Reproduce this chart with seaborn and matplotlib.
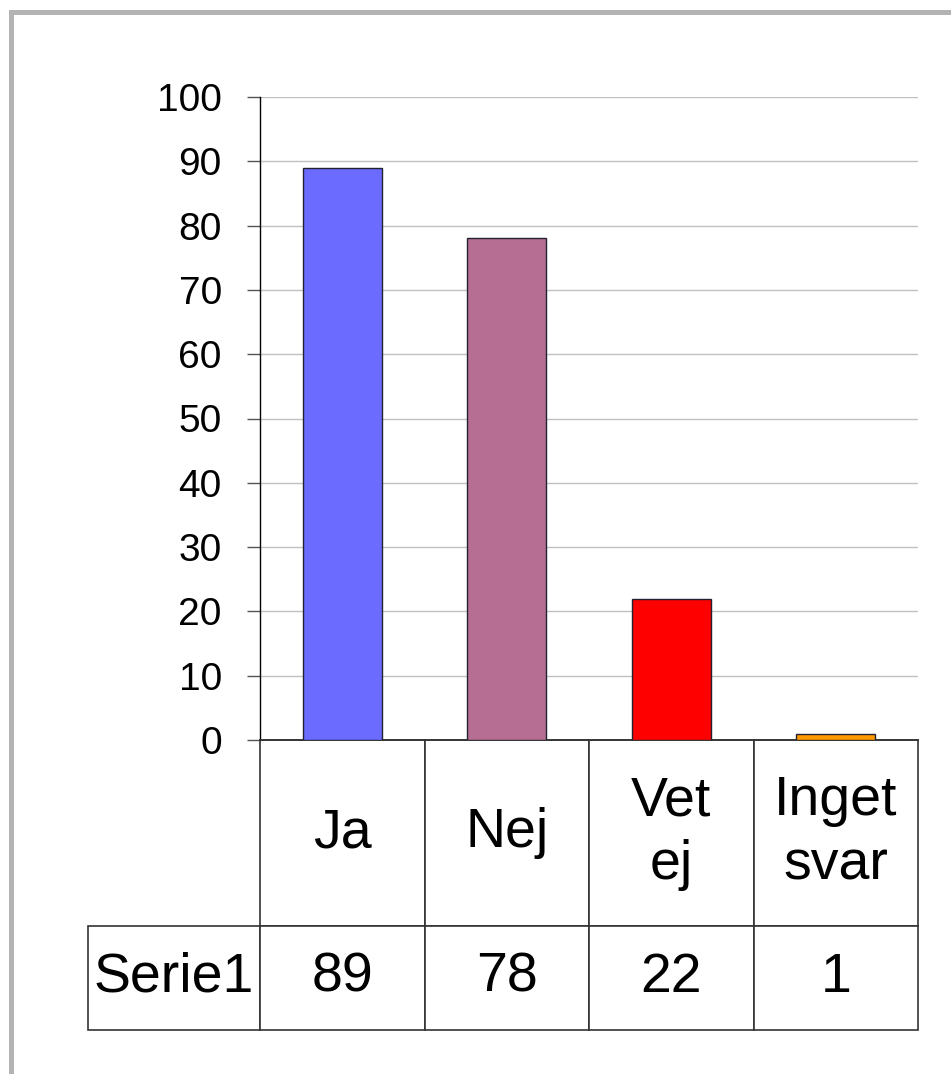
import matplotlib
matplotlib.use("Agg")
import matplotlib.pyplot as plt
import matplotlib.patches as mpatches
import pandas as pd
import seaborn as sns

# chart data
categories = ["Ja", "Nej", "Vet ej", "Inget svar"]
header_labels = ["Ja", "Nej", "Vet\nej", "Inget\nsvar"]
series_name = "Serie1"
values = [89, 78, 22, 1]
bar_colors = ["#6b6bff", "#b66f92", "#ff0000", "#ff9900"]
y_ticks = [0, 10, 20, 30, 40, 50, 60, 70, 80, 90, 100]

sns.set_theme(style="white")
plt.rcParams["font.family"] = ["Liberation Sans", "DejaVu Sans"]
plt.rcParams["text.color"] = "black"

df = pd.DataFrame({"kategori": categories, "antal": values})

fig = plt.figure(figsize=(9.51, 10.74), dpi=100)
ax = fig.add_axes([260 / 951, 1 - 740 / 1074, 658 / 951, 643 / 1074])

sns.barplot(data=df, x="kategori", y="antal", hue="kategori",
            palette=bar_colors, saturation=1, width=0.48,
            edgecolor="#222233", linewidth=1.0, legend=False, ax=ax, zorder=3)

ax.set_ylim(0, 100)
ax.set_xlim(-0.5, len(categories) - 0.5)
ax.set_yticks(y_ticks)
ax.set_yticklabels([str(t) for t in y_ticks], fontsize=28, color="black")
ax.tick_params(axis="y", direction="out", length=9.5, width=1.0,
               color="#555555", pad=18, left=True)
ax.set_xticks([])
ax.set_xlabel("")
ax.set_ylabel("")
ax.yaxis.grid(True, color="#c0c0c0", linewidth=1.0, zorder=0)
ax.set_axisbelow(True)

for side in ["top", "right"]:
    ax.spines[side].set_visible(False)
ax.spines["left"].set_color("black")
ax.spines["left"].set_linewidth(1.0)
ax.spines["bottom"].set_color("#333333")
ax.spines["bottom"].set_linewidth(1.2)

# data table under the plot
cell_text = [[series_name] + [str(v) for v in values]]
col_labels = [""] + header_labels
col_widths = [172] + [164] * len(categories)
tbl = ax.table(cellText=cell_text, colLabels=col_labels,
               colWidths=[w / sum(col_widths) for w in col_widths],
               cellLoc="center",
               bbox=[-172 / 658, -290 / 643, 830 / 658, 290 / 643])
tbl.auto_set_font_size(False)
tbl.set_fontsize(40)
for (r, c), cell in tbl.get_celld().items():
    cell.set_edgecolor("#333333")
    cell.set_linewidth(1.2)
    cell.set_height(186 if r == 0 else 104)
    cell.get_text().set_color("black")
    cell.get_text().set_linespacing(1.3)
    if r == 0 and c == 0:
        cell.visible_edges = ""

# outer chart border
fig.patches.append(mpatches.Rectangle((10.5 / 951, -0.1), 2.0, 1.1 - 12 / 1074,
                                      transform=fig.transFigure, fill=False,
                                      edgecolor="#b3b3b3", linewidth=3.6))

fig.savefig("out.png", dpi=100)
